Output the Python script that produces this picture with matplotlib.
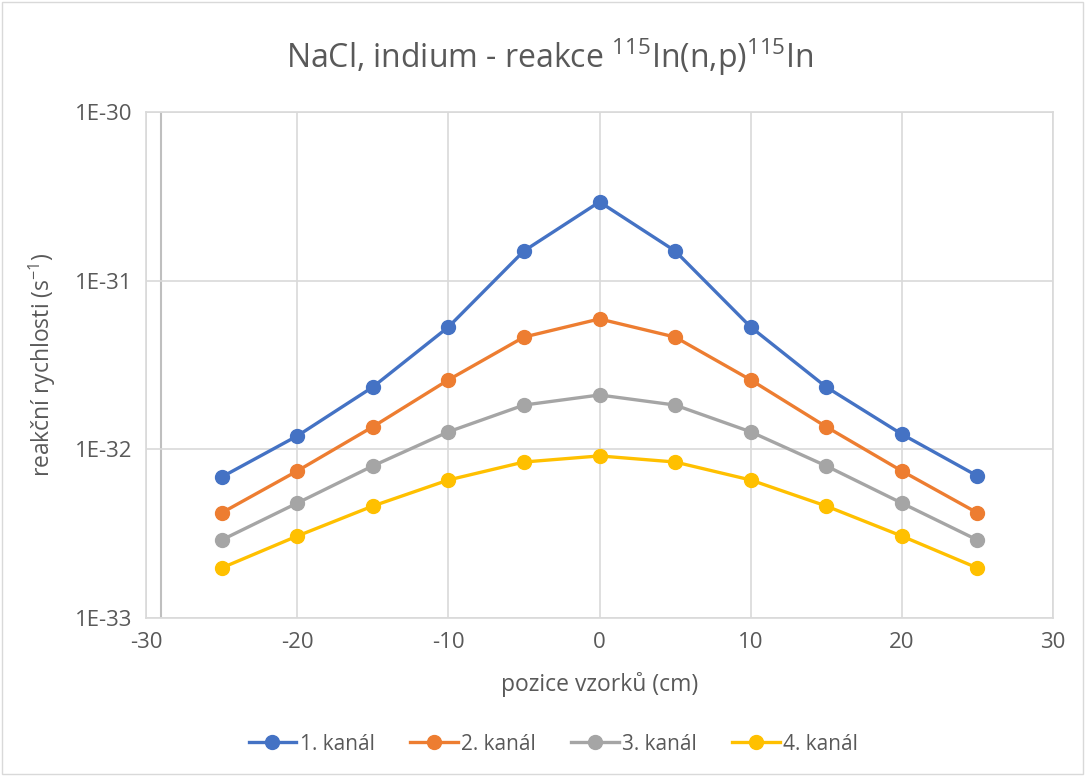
import matplotlib.pyplot as plt
from matplotlib.patches import Rectangle
import numpy as np

# data
positions = [-25, -20, -15, -10, -5, 0, 5, 10, 15, 20, 25]
channel_1 = [6.85e-33, 1.20e-32, 2.34e-32, 5.31e-32, 1.50e-31, 2.93e-31,
             1.50e-31, 5.31e-32, 2.34e-32, 1.23e-32, 6.95e-33]
channel_2 = [4.20e-33, 7.44e-33, 1.36e-32, 2.58e-32, 4.63e-32, 5.93e-32,
             4.63e-32, 2.58e-32, 1.36e-32, 7.44e-33, 4.20e-33]
channel_3 = [2.90e-33, 4.80e-33, 7.97e-33, 1.27e-32, 1.83e-32, 2.10e-32,
             1.83e-32, 1.27e-32, 7.97e-33, 4.80e-33, 2.90e-33]
channel_4 = [1.98e-33, 3.06e-33, 4.61e-33, 6.58e-33, 8.41e-33, 9.14e-33,
             8.41e-33, 6.58e-33, 4.61e-33, 3.06e-33, 1.98e-33]
labels = ['1. kanál', '2. kanál', '3. kanál', '4. kanál']
colors = ['#4472C4', '#ED7D31', '#A5A5A5', '#FFC000']

plt.rcParams['font.family'] = ['Open Sans', 'DejaVu Sans']
plt.rcParams['mathtext.fontset'] = 'custom'
plt.rcParams['mathtext.rm'] = 'Open Sans'
plt.rcParams['mathtext.it'] = 'Open Sans'
plt.rcParams['axes.unicode_minus'] = False

text_col = '#595959'
grid_col = '#D9D9D9'

fig = plt.figure(figsize=(10.85, 7.76), dpi=100)
ax = fig.add_axes([0.1346, 0.2036, 0.8359, 0.6521])

for vals, lab, col in zip([channel_1, channel_2, channel_3, channel_4], labels, colors):
    ax.plot(positions, vals, color=col, linewidth=2.4, marker='o',
            markersize=10, label=lab, zorder=3)

ax.set_yscale('log')
ax.set_ylim(1e-33, 1e-30)
ax.set_xlim(-30, 30)
ax.set_xticks(np.arange(-30, 31, 10))
ax.set_xticklabels([str(v) for v in range(-30, 31, 10)])
ax.set_yticks([1e-33, 1e-32, 1e-31, 1e-30])
ax.set_yticklabels(['1E-33', '1E-32', '1E-31', '1E-30'])
ax.minorticks_off()
ax.grid(True, color=grid_col, linewidth=1.2, zorder=0)
ax.axvline(-29, color='#BFBFBF', linewidth=1.5, zorder=1)
for s in ax.spines.values():
    s.set_color(grid_col)
    s.set_linewidth(1.2)
ax.tick_params(length=0, labelsize=16, labelcolor=text_col, pad=10)

ax.set_xlabel('pozice vzorků (cm)', fontsize=16.5, color=text_col, labelpad=14)
ax.set_ylabel('reakční rychlosti (s$^{-1}$)', fontsize=16.5, color=text_col, labelpad=12)
fig.text(0.507, 0.926, 'NaCl, indium - reakce $^{115}$In(n,p)$^{115}$In', fontsize=23,
         color=text_col, ha='center', va='center')

fig.legend(loc='center', bbox_to_anchor=(0.51, 0.041), ncol=4, frameon=False,
           fontsize=15, labelcolor=text_col, handlelength=2.3, columnspacing=1.7,
           handletextpad=0.15)

fig.patches.append(Rectangle((0.002, 0.002), 0.996, 0.996, transform=fig.transFigure,
                             fill=False, edgecolor='#D9D9D9', linewidth=1))

plt.savefig('out.png', dpi=100)
